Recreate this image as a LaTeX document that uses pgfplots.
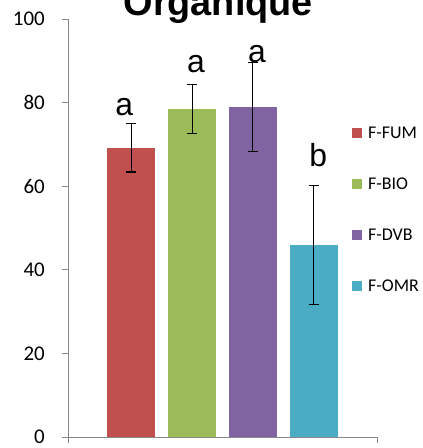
\documentclass[border=0pt]{standalone}
\usepackage{pgfplots}
\pgfplotsset{compat=1.18}
\usepackage{fontspec}
\setmainfont{Liberation Sans}
\newfontfamily\calibri{Carlito}
\definecolor{cFUM}{HTML}{C0504D}
\definecolor{cBIO}{HTML}{9BBB59}
\definecolor{cDVB}{HTML}{8064A2}
\definecolor{cOMR}{HTML}{4BACC6}
\definecolor{axgray}{HTML}{888888}
\begin{document}
\begin{tikzpicture}
\begin{axis}[
  at={(0,0)}, anchor=south west,
  scale only axis, width=309bp, height=418bp,
  xmin=-1.04, xmax=4.04, ymin=0, ymax=100,
  ytick={0,20,40,60,80,100},
  xtick={-1.04,4.04}, xticklabels={},
  axis x line*=bottom, axis y line*=left,
  axis line style={-, draw=axgray, line width=0.9bp},
  tick style={draw=axgray, line width=0.9bp},
  major tick length=6bp, tick align=outside,
  /pgf/number format/assume math mode=true,
  yticklabel style={font=\calibri\fontsize{21}{21}\selectfont, anchor=east, inner sep=0pt, xshift=-17bp},
  clip=false,
  legend image code/.code={\fill[#1] (0bp,-5bp) rectangle (10bp,5bp);},
  legend style={at={(rel axis cs:0.919,0.545)}, anchor=west, draw=none, fill=none, inner sep=0pt,
    font=\calibri\fontsize{18}{18}\selectfont, row sep=39bp, column sep=6bp,
    nodes={inner sep=0pt, text height=12bp, text depth=0bp}},
  legend cell align=left,
]
\addplot[ybar, bar width=48bp, bar shift=0pt, fill=cFUM, draw=none,
  error bars/.cd, y dir=both, y explicit,
  error bar style={black, line width=1.1bp},
  error mark options={rotate=90, black, mark size=5bp, line width=1.1bp}]
  coordinates {(0,69.2) +- (0,5.8)};
\addlegendentry{F-FUM}
\addplot[ybar, bar width=48bp, bar shift=0pt, fill=cBIO, draw=none,
  error bars/.cd, y dir=both, y explicit,
  error bar style={black, line width=1.1bp},
  error mark options={rotate=90, black, mark size=5bp, line width=1.1bp}]
  coordinates {(1,78.5) +- (0,5.8)};
\addlegendentry{F-BIO}
\addplot[ybar, bar width=48bp, bar shift=0pt, fill=cDVB, draw=none,
  error bars/.cd, y dir=both, y explicit,
  error bar style={black, line width=1.1bp},
  error mark options={rotate=90, black, mark size=5bp, line width=1.1bp}]
  coordinates {(2,78.9) +- (0,10.6)};
\addlegendentry{F-DVB}
\addplot[ybar, bar width=48bp, bar shift=0pt, fill=cOMR, draw=none,
  error bars/.cd, y dir=both, y explicit,
  error bar style={black, line width=1.1bp},
  error mark options={rotate=90, black, mark size=5bp, line width=1.1bp}]
  coordinates {(3,45.9) +- (0,14.2)};
\addlegendentry{F-OMR}
\node[anchor=base, font=\fontsize{32}{32}\selectfont] at (axis cs:-0.115,77.0) {a};
\node[anchor=base, font=\fontsize{32}{32}\selectfont] at (axis cs:1.066,87.1) {a};
\node[anchor=base, font=\fontsize{32}{32}\selectfont] at (axis cs:2.066,89.5) {a};
\node[anchor=base, font=\fontsize{32}{32}\selectfont] at (axis cs:3.074,64.6) {b};
\node[anchor=base, font=\fontsize{38}{38}\selectfont\bfseries] at (axis cs:1.43,100.9) {Organique};
\end{axis}
\pgfresetboundingbox
\path[use as bounding box] (-68bp,-11bp) rectangle (355bp,437bp);
\end{tikzpicture}
\end{document}
